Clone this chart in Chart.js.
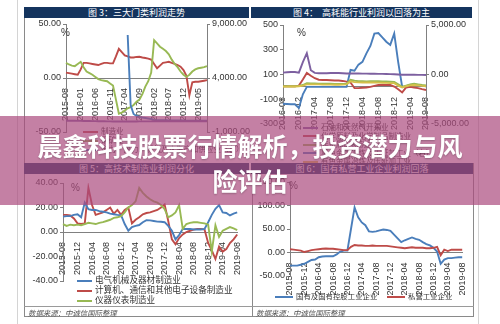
<!DOCTYPE html>
<html><head><meta charset="utf-8">
<script src="https://cdn.jsdelivr.net/npm/chart.js@4.4.1/dist/chart.umd.min.js"></script>
<style>
html,body{margin:0;padding:0;background:#fff;}
#page{position:relative;width:500px;height:324px;overflow:hidden;background:#fff;font-family:"Noto Sans CJK SC","Liberation Sans",sans-serif;}
.vline{position:absolute;width:1px;}
.hline{position:absolute;height:1px;}
.hdr{position:absolute;height:11px;background:#14345e;color:#fff;font-size:9px;line-height:11px;text-align:center;white-space:nowrap;}
.pct{position:absolute;font:10px "Liberation Sans",Arial,sans-serif;color:#333;}
.lg{position:absolute;white-space:nowrap;color:#333;line-height:10px;}
.lg i{display:inline-block;width:15px;height:2px;vertical-align:middle;margin-right:3px;}
.src{position:absolute;font-size:7.4px;font-style:italic;color:#555;white-space:nowrap;}
#overlay{position:absolute;left:0;top:116px;width:500px;height:89px;background:rgba(171,74,125,0.7);}
#title{position:absolute;left:30px;top:128px;width:440px;text-align:center;color:#fff;font-weight:700;font-size:25px;line-height:35px;font-family:"Noto Sans CJK SC",sans-serif;text-shadow:0 1px 2px rgba(0,0,0,0.25);}
canvas{position:absolute;}
</style></head>
<body><div id="page">
<div class="vline" style="left:17px;top:0;height:324px;background:#d4d4d4"></div>
<div class="vline" style="left:478px;top:0;height:324px;background:#d4d4d4"></div>
<div class="vline" style="left:24px;top:7px;height:309px;background:#8a8a8a"></div>
<div class="vline" style="left:252px;top:174px;height:142px;background:#8a8a8a"></div>
<div class="vline" style="left:473px;top:163px;height:153px;background:#8a8a8a"></div>
<div class="hline" style="left:24px;top:306px;width:450px;background:#9a9a9a"></div>
<div class="hline" style="left:24px;top:316px;width:450px;background:#8a8a8a"></div>

<div class="hdr" style="left:24px;top:7px;width:225px">图 3：三大门类利润走势</div>
<div class="hdr" style="left:251px;top:7px;width:221px">图 4：&nbsp;&nbsp;高耗能行业利润以回落为主</div>
<div class="hdr" style="left:24px;top:163px;width:225px">图 5：高技术制造业利润分化</div>
<div class="hdr" style="left:251px;top:163px;width:222px">图 6：国有私营工业企业利润回落</div>

<canvas id="c3" width="226" height="124" style="left:24px;top:16px"></canvas>
<canvas id="c4" width="222" height="115" style="left:250px;top:17px"></canvas>
<canvas id="c5" width="226" height="114" style="left:24px;top:175px"></canvas>
<canvas id="c6" width="223" height="122" style="left:252px;top:174px"></canvas>

<div class="pct" style="left:61px;top:27px">%</div>
<div class="pct" style="left:297px;top:27px">%</div>
<div class="pct" style="left:71px;top:182px">%</div>
<div class="pct" style="left:289px;top:180px">%</div>

<div id="lg3"></div><div id="lg4"></div><div id="lg5"></div><div id="lg6"></div>

<div class="src" style="left:28px;top:307px">数据来源：中诚信国际整理</div>
<div class="src" style="left:256px;top:307px">数据来源：中诚信国际整理</div>

<div id="overlay"></div>
<div id="title">晨鑫科技股票行情解析，投资潜力与风险评估</div>
</div>
<script>
// ---------- categories ----------
const months = ["2015-08","2015-09","2015-10","2015-11","2015-12","2016-01","2016-02","2016-03","2016-04","2016-05","2016-06","2016-07","2016-08","2016-09","2016-10","2016-11","2016-12","2017-01","2017-02","2017-03","2017-04","2017-05","2017-06","2017-07","2017-08","2017-09","2017-10","2017-11","2017-12","2018-01","2018-02","2018-03","2018-04","2018-05","2018-06","2018-07","2018-08","2018-09","2018-10","2018-11","2018-12","2019-01","2019-02","2019-03","2019-04","2019-05","2019-06","2019-07","2019-08"];
const months4 = months.slice(12); // 2016-08 .. 2019-08

// ---------- chart 3: 三大门类利润走势 ----------
const c3Red    = [5,4.5,4,3.5,3,8,14,14,13.5,13,12.5,12,13,14,14,13.5,13.5,20,27,24,21,20,19,19,19.5,19.7,19,18.5,18,17,13,9,11.5,14,14.5,15,14,13,12,10.5,7.4,2,-16,-4,-3.5,-3.5,-3,-2.5,-2];
const c3Green  = [14,12.5,11.5,11,13,15,10,6,4.5,3,1,-1,-2,-2.5,-3,-5,-7,-20,-33,-32,-30,-28,-27,-25,-22,-20,-15,-8,-3,5,35,32,29,27,25,22,17,13,10,6,3,1,3,6,8,9,9.5,10,11];
const c3Blue   = [null,null,null,null,null,null,null,null,null,null,null,null,null,null,null,null,null,null,null,null,null,7980,1500,670,480,390,340,300,250,200,110,100,95,90,85,80,75,70,65,60,60,55,55,50,50,50,45,45,45];
const c3Purple = [40,40,35,35,30,30,25,20,15,10,5,0,-5,-10,-15,-20,-25,-30,-30,-30,-30,-30,-30,-25,-25,-20,-20,-20,-15,-15,-10,-10,-10,-5,-5,-5,0,0,0,0,0,-5,-5,-5,-5,-5,-5,-5,-5];
const c3Legend = ["制造业","采矿业","电力、热力、燃气及水生产和供应业（右）"];

// ---------- chart 4: 高耗能行业利润 ----------
const c4Purple = [115,118,120,120,115,200,272,135,113,110,110,110,112,112,112,110,108,108,108,108,107,107,106,106,105,105,104,103,102,100,98,98,98,98,97,97,96];
const c4Red    = [5,5,5,5,10,60,113,90,70,58,56,55,54,52,51,48,42,35,-10,-10,-7,-5,0,8,15,15,15,15,3,-20,-45,-5,0,-5,-10,-18,-25];
const c4Green  = [5,5,5,5,8,15,30,28,27,26,25,25,25,24,24,24,25,57,50,45,45,44,45,45,45,44,44,42,40,20,0,10,20,25,20,15,12];
const c4Yellow = [2,2,3,3,5,10,20,20,20,20,18,18,18,17,17,18,20,45,38,36,35,35,35,35,34,33,32,30,30,10,-5,5,12,15,12,8,5];
const c4Blue   = [-2960,-2980,-3000,-3000,-3380,-2000,-1250,-1250,-1250,-1250,-1250,-1250,-1250,-1250,-1250,-1250,-1250,460,380,1000,1280,2130,2880,4130,4190,3750,3310,2990,4130,1250,-1250,-1190,-1060,-1000,-1060,-1130,-1190];
const c4Legend = ["石油和天然气开采业","化学原料及化学制品制造业","非金属矿物制品业","黑色金属冶炼及压延加工业（右）","有色金属冶炼及压延加工业"];

// ---------- chart 5: 高技术制造业利润分化 ----------
const c5Blue  = [12.5,13,13,14,14.5,12,24,18.6,18,18,17,16.5,16,15,14.5,14,13.7,6.5,1,4,5,5.7,8,9.7,9.5,9,8.5,8.4,8,5,1,-6,-2.5,2.5,2.5,2.5,2,2,2,2.5,8,14,19,22,16,15.5,13.5,15,16];
const c5Red   = [14,14,13.5,11,7,6.5,7,36,22,14,15,16,18,20,15,18,14,18,20,7,10,12,14.5,15.5,16,17,18,20,22.5,9,-6,-10,-5,-2,0,1,2,2.5,2.5,2,-9,-15,-22,-12,-16,-14,-9,-6,-2];
const c5Green = [6.5,5,6,5.5,6,5.5,6.5,7.5,7,6.5,7.5,8,9,10,11.5,12,13,16,20,22,25,36,32,29,26.7,25,24,22,18.6,12,13.5,16,22,2.5,6.5,7.5,8,8,7.5,7,6,-16,5.5,-4,1,2.5,4,3,1.6];
const c5Legend = ["电气机械及器材制造业","计算机、通信和其他电子设备制造业","仪器仪表制造业"];

// ---------- chart 6: 国有私营工业企业利润回落 ----------
const c6Blue = [-28,-28,-28,-26,-24,-20,-16,-15,-10,-8.5,-8,-8,-8,-4,2,4,4,50,96,75,64,58,45,44,45,47,49,48,46,38,30,22,26,29,32,29,27,22,18,15,10,2,-24,-15,-12,-12,-11,-10,-10];
const c6Red  = [7,6,5,4,1,3,5,6,7,8,8.5,8,8,7,6,5,5,12,16,15,15,14,14,15,14,14,14,14,13,12,11,10,9,10,11,10,10,10,9,9,10,12,-6,6,3,6,6,6,6];
const c6Legend = ["国有及国有控股工业企业","私营工业企业"];

// ---------- styling ----------
const BLUE='#4a7ebb', RED='#be4b48', GREEN='#98b954', PURPLE='#7d60a0', YELLOW='#d6c04a';
const TICK_FONT = {family:'"Liberation Sans", Arial, sans-serif', size:9};
const fmt2 = v => Number(v).toLocaleString('en-US',{minimumFractionDigits:2, maximumFractionDigits:2});
const fmt0 = v => String(v);

function yAxis(min,max,step,width,fmt,pos){
  return {type:'linear', position:pos, min:min, max:max,
    ticks:{stepSize:step, font:TICK_FONT, color:'#333', padding:2, callback:fmt},
    grid:{display:true, drawOnChartArea:false, drawTicks:true, tickLength:3, color:'#808080'},
    border:{display:true, color:'#808080', width:1},
    afterFit(s){ s.width = width; }};
}
function xAxis(labels, step){
  return {type:'category', position:{y:0}, offset:false,
    ticks:{autoSkip:false, minRotation:90, maxRotation:90, font:TICK_FONT, color:'#333', padding:2,
      callback:(v,i)=> (i % step === 0 ? labels[i] : null)},
    grid:{display:false}, border:{display:true, color:'#808080', width:1}};
}
function ds(data,color,axis){
  return {data:data, borderColor:color, backgroundColor:color, borderWidth:1.9, pointRadius:0, fill:false, tension:0, yAxisID:axis||'y', spanGaps:false};
}
function make(id, labels, datasets, scales, padding){
  new Chart(document.getElementById(id), {
    type:'line',
    data:{labels:labels, datasets:datasets},
    options:{responsive:false, animation:false, devicePixelRatio:1,
      layout:{padding:padding},
      plugins:{legend:{display:false}, tooltip:{enabled:false}},
      scales:scales}
  });
}
function legend(id, items, colors, x, y0, dy, fs){
  const el = document.getElementById(id);
  items.forEach((t,i)=>{
    const d = document.createElement('div');
    d.className='lg';
    d.style.left = x+'px'; d.style.top = (y0 + i*dy - 5)+'px'; d.style.fontSize = fs+'px';
    d.innerHTML = '<i style="background:'+colors[i]+'"></i>'+t;
    el.appendChild(d);
  });
}

make('c3', months, [ds(c3Purple,PURPLE,'y1'), ds(c3Blue,BLUE,'y1'), ds(c3Green,GREEN), ds(c3Red,RED)],
  {x:xAxis(months,5), y:yAxis(-50,50,50,42,fmt2,'left'), y1:yAxis(-1000,9000,5000,43,fmt2,'right')},
  {top:8,bottom:8,left:0,right:0});

make('c4', months4, [ds(c4Yellow,YELLOW), ds(c4Green,GREEN), ds(c4Red,RED), ds(c4Purple,PURPLE), ds(c4Blue,BLUE,'y1')],
  {x:xAxis(months4,4), y:yAxis(-300,500,100,33,fmt0,'left'), y1:yAxis(-5000,5000,5000,46,fmt2,'right')},
  {top:8,bottom:8,left:0,right:0});

make('c5', months, [ds(c5Green,GREEN), ds(c5Blue,BLUE), ds(c5Red,RED)],
  {x:xAxis(months,4), y:yAxis(-40,40,20,39,fmt2,'left')},
  {top:8,bottom:8,left:0,right:7});

make('c6', months, [ds(c6Red,RED), ds(c6Blue,BLUE)],
  {x:xAxis(months,4), y:yAxis(-50,150,50,38,fmt2,'left')},
  {top:8,bottom:20,left:0,right:10});

legend('lg3', c3Legend, [RED,GREEN,BLUE], 83, 131, 9, 7.5);
legend('lg4', c4Legend, [PURPLE,RED,GREEN,BLUE,YELLOW], 303, 127, 8.5, 7.5);
legend('lg5', c5Legend, [BLUE,RED,GREEN], 77, 279, 10, 8.6);
// chart 6 legend in one row
(function(){
  const el = document.getElementById('lg6');
  const xs = [275, 387], cols=[BLUE,RED];
  c6Legend.forEach((t,i)=>{
    const d=document.createElement('div'); d.className='lg';
    d.style.left=xs[i]+'px'; d.style.top='291px'; d.style.fontSize='7.4px';
    d.innerHTML='<i style="background:'+cols[i]+';width:18px"></i>'+t;
    el.appendChild(d);
  });
})();
</script>
</body></html>
